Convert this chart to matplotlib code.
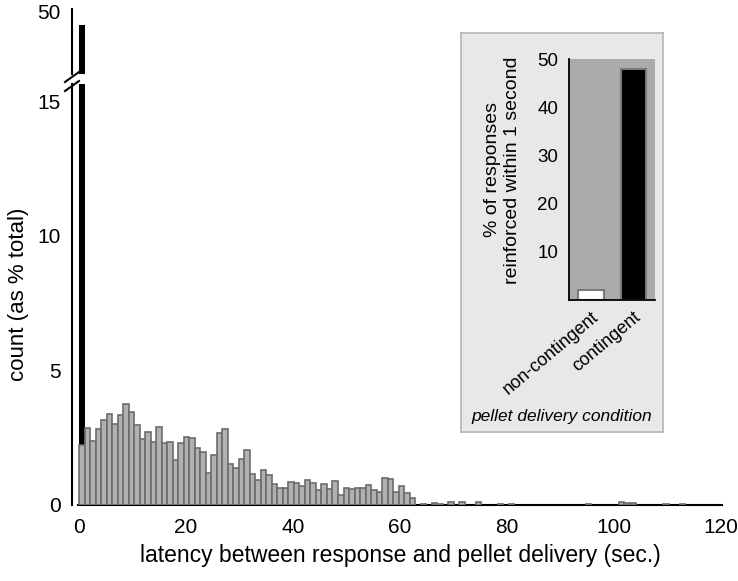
import numpy as np
import matplotlib
matplotlib.use("Agg")
import matplotlib.pyplot as plt
from matplotlib.lines import Line2D

plt.rcParams['font.family'] = ['Liberation Sans', 'DejaVu Sans']

# histogram (% of total responses), non-contingent condition
dense_counts = [2.22, 2.88, 2.39, 2.84, 3.15, 3.37, 3.02, 3.36, 3.74, 3.44,
                2.97, 2.45, 2.71, 2.33, 2.89, 2.31, 2.33, 1.69, 2.30, 2.53,
                2.49, 2.11, 1.96, 1.19, 1.86, 2.68, 2.81, 1.51, 1.36, 1.72,
                2.04, 1.14, 0.92, 1.31, 1.10, 0.79, 0.63, 0.62, 0.85, 0.81,
                0.72, 0.94, 0.81, 0.56, 0.77, 0.60, 0.90, 0.36, 0.62, 0.60,
                0.63, 0.63, 0.76, 0.55, 0.48, 1.01, 0.95, 0.48, 0.70, 0.46,
                0.25]
tail_bins = [62, 64, 65, 67, 69, 72, 76, 78, 92, 98, 99, 100, 106, 109]
tail_counts = [0.05, 0.07, 0.05, 0.12, 0.12, 0.10, 0.05, 0.05, 0.05, 0.10,
               0.07, 0.07, 0.05, 0.05]
# contingent condition: first bin only
contingent_first = 48.0
# bin width as it comes out against the original's axis
bin_width = 1.03

# inset
inset_labels = ['non-contingent', 'contingent']
inset_values = [2.1, 48.0]
inset_colors = ['white', 'black']

bins = np.array(list(range(len(dense_counts))) + tail_bins)
counts = dense_counts + tail_counts

W, H = 738, 581
def fx(px):
    return px / W
def fy(py):
    return 1 - py / H

fig = plt.figure(figsize=(W / 100, H / 100), dpi=100)

bar_face = '#b1b1b1'
bar_edge = '#6c6c6c'
tick_fs = 15

# lower part of the broken axis
ax = fig.add_axes([fx(78), fy(505), fx(722) - fx(78), fy(84) - fy(505)])
ax.bar(0, contingent_first, width=bin_width, align='edge', color='black', zorder=2)
ax.bar(bins * bin_width, counts, width=bin_width, align='edge', color=bar_face,
       edgecolor=bar_edge, linewidth=1.2, zorder=3)
ax.set_xlim(-0.2, 120.2)
ax.set_ylim(0, 15.65)
ax.set_xticks(range(0, 121, 20))
ax.set_yticks([0, 5, 10, 15])
for s in ['top', 'right']:
    ax.spines[s].set_visible(False)
ax.spines['left'].set_position(('outward', 4.3))
ax.spines['left'].set_linewidth(1.5)
ax.spines['bottom'].set_linewidth(1.5)
ax.tick_params(length=0, labelsize=tick_fs)
ax.tick_params(axis='y', pad=8)
ax.tick_params(axis='x', pad=9.5)
ax.set_xlabel('latency between response and pellet delivery (sec.)', fontsize=16.5, labelpad=5)
ax.set_ylabel('count (as % total)', fontsize=16, labelpad=6)

# upper part
axt = fig.add_axes([fx(78), fy(74), fx(722) - fx(78), fy(9) - fy(74)])
axt.bar(0, contingent_first, width=bin_width, align='edge', color='black', zorder=2)
axt.set_xlim(-0.2, 120.2)
axt.set_ylim(40.46, 50.46)
axt.set_xticks([])
axt.set_yticks([50])
for s in ['top', 'right', 'bottom']:
    axt.spines[s].set_visible(False)
axt.spines['left'].set_position(('outward', 4.3))
axt.spines['left'].set_linewidth(1.5)
axt.tick_params(length=0, labelsize=tick_fs, pad=8)
axt.patch.set_alpha(0)

# break marks
for y0 in [82, 91]:
    fig.add_artist(Line2D([fx(65), fx(79)], [fy(y0), fy(y0 - 10)], color='black', lw=1.5))

# inset frame
box = fig.add_axes([fx(461), fy(432), fx(663) - fx(461), fy(33) - fy(432)])
box.set_facecolor('#e8e8e8')
box.set_xticks([])
box.set_yticks([])
for s in box.spines.values():
    s.set_color('#b5b5b5')
    s.set_linewidth(1.2)
box.text(0.5, 0.04, 'pellet delivery condition', transform=box.transAxes,
         ha='center', va='center', fontsize=12.5, style='italic')

axi = fig.add_axes([fx(569.3), fy(299.8), fx(655) - fx(569.3), fy(59.3) - fy(299.8)])
axi.set_facecolor('#ababab')
axi.bar(range(len(inset_values)), inset_values, width=0.6, color=inset_colors,
        edgecolor='#7a7a7a', linewidth=1.5)
axi.set_xlim(-0.5, 1.5)
axi.set_ylim(0, 50)
axi.set_yticks([10, 20, 30, 40, 50])
axi.set_xticks(range(len(inset_labels)))
axi.set_xticklabels(inset_labels, rotation=40, ha='right', rotation_mode='anchor')
for s in ['top', 'right']:
    axi.spines[s].set_visible(False)
axi.spines['left'].set_linewidth(1.3)
axi.spines['bottom'].set_linewidth(1.3)
axi.tick_params(length=0)
axi.tick_params(axis='y', pad=8, labelsize=13.5)
axi.tick_params(axis='x', pad=6, labelsize=13)
axi.set_ylabel('% of responses\nreinforced within 1 second', fontsize=14)
axi.yaxis.set_label_coords(-0.565, 0.54)

fig.savefig('out.png', dpi=100)
